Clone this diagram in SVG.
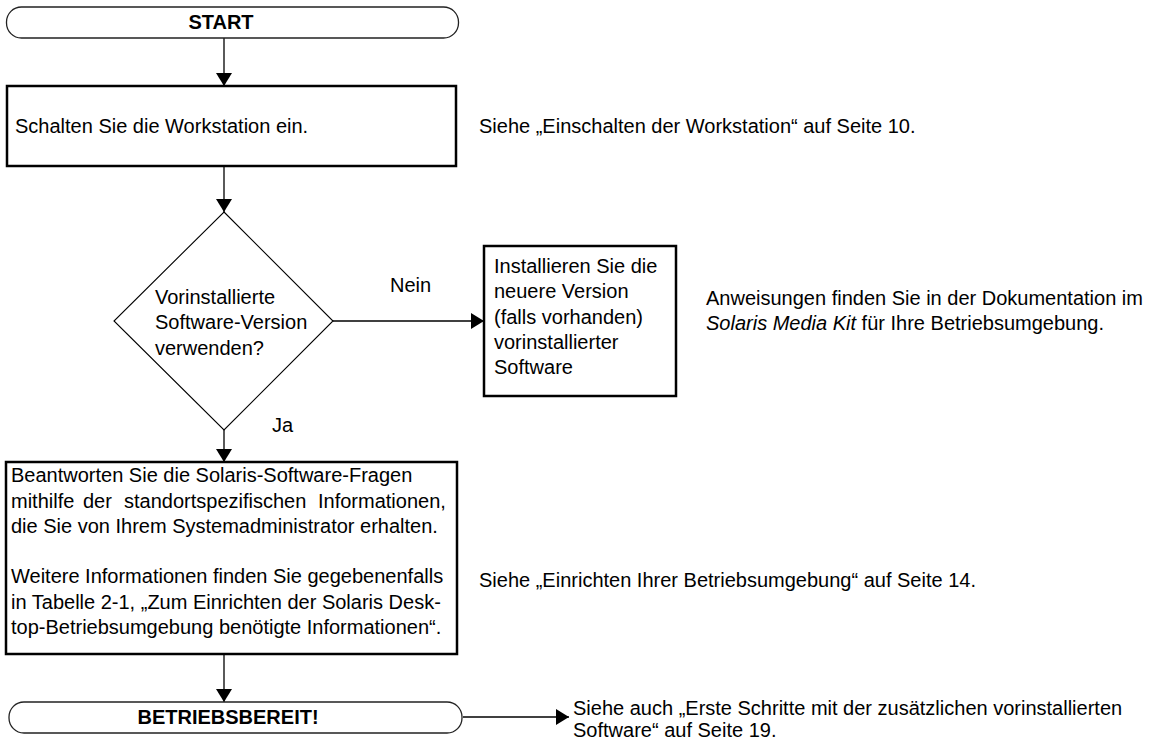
<svg xmlns="http://www.w3.org/2000/svg" width="1152" height="741" viewBox="0 0 1152 741">
<style>
text{font-family:"Liberation Sans",Arial,Helvetica,sans-serif;font-size:20px;fill:#000}
.b{font-weight:bold}
.term{fill:#fff;stroke:#222;stroke-width:1.3}
.box{fill:#fff;stroke:#000;stroke-width:2.5}
.dia{fill:#fff;stroke:#000;stroke-width:1.1}
.con{fill:none;stroke:#000;stroke-width:1.3}
</style>
<defs>
<marker id="ah" markerUnits="userSpaceOnUse" markerWidth="14" markerHeight="16" refX="13" refY="8" orient="auto">
<path d="M0,0 L13,8 L0,16 z" fill="#000"/>
</marker>
</defs>
<rect width="1152" height="741" fill="#fff"/>
<g id="connectors">
<path class="con" d="M224,38 V86" marker-end="url(#ah)"/>
<path class="con" d="M224,166 V212" marker-end="url(#ah)"/>
<path class="con" d="M333,321 H484" marker-end="url(#ah)"/>
<path class="con" d="M224,430 V462" marker-end="url(#ah)"/>
<path class="con" d="M224,654 V702" marker-end="url(#ah)"/>
<path class="con" d="M463,717 H569" marker-end="url(#ah)"/>
<text x="390" y="292">Nein</text>
<text x="272" y="432">Ja</text>
</g>
<g id="start">
<rect class="term" x="6.5" y="7" width="452" height="31" rx="15" ry="15"/>
<text class="b" x="221" y="29" text-anchor="middle">START</text>
</g>
<g id="box1">
<rect class="box" x="7" y="86" width="449" height="80"/>
<text x="15" y="133">Schalten Sie die Workstation ein.</text>
</g>
<g id="note1">
<text x="479" y="133">Siehe „Einschalten der Workstation“ auf Seite 10.</text>
</g>
<g id="decision">
<polygon class="dia" points="224,212 333,321 224,430 114,321"/>
<text x="155" y="304">Vorinstallierte</text>
<text x="155" y="329">Software-Version</text>
<text x="155" y="355">verwenden?</text>
</g>
<g id="box2">
<rect class="box" x="484" y="246" width="192" height="150"/>
<text x="494" y="273">Installieren Sie die</text>
<text x="494" y="298">neuere Version</text>
<text x="494" y="324">(falls vorhanden)</text>
<text x="494" y="349">vorinstallierter</text>
<text x="494" y="374">Software</text>
</g>
<g id="note2">
<text x="706" y="305">Anweisungen finden Sie in der Dokumentation im</text>
<text x="706" y="330"><tspan font-style="italic">Solaris Media Kit</tspan> für Ihre Betriebsumgebung.</text>
</g>
<g id="box3">
<rect class="box" x="6" y="462" width="451" height="192"/>
<text x="11" y="482">Beantworten Sie die Solaris-Software-Fragen</text>
<text y="508"><tspan x="11">mithilfe</tspan><tspan x="83">der</tspan><tspan x="124">standortspezifischen</tspan><tspan x="318">Informationen,</tspan></text>
<text x="11" y="533">die Sie von Ihrem Systemadministrator erhalten.</text>
<text x="11" y="583">Weitere Informationen finden Sie gegebenenfalls</text>
<text x="11" y="609">in Tabelle 2-1, „Zum Einrichten der Solaris Desk-</text>
<text x="11" y="634">top-Betriebsumgebung benötigte Informationen“.</text>
</g>
<g id="note3">
<text x="479" y="587">Siehe „Einrichten Ihrer Betriebsumgebung“ auf Seite 14.</text>
</g>
<g id="end">
<rect class="term" x="9" y="702" width="453" height="31" rx="15" ry="15"/>
<text class="b" x="228" y="724" text-anchor="middle">BETRIEBSBEREIT!</text>
</g>
<g id="note4">
<text x="573" y="715">Siehe auch „Erste Schritte mit der zusätzlichen vorinstallierten</text>
<text x="573" y="737">Software“ auf Seite 19.</text>
</g>
</svg>
